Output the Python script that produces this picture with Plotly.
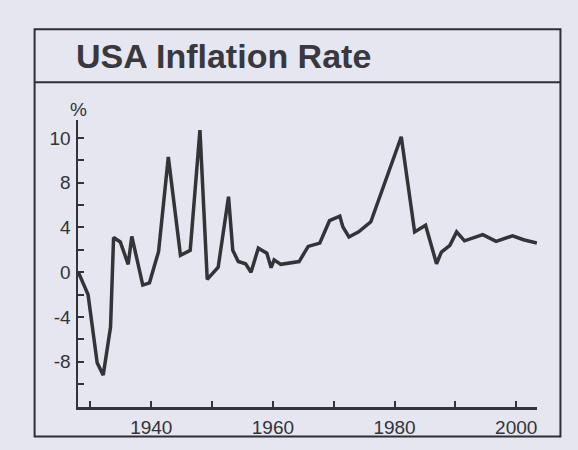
import plotly.graph_objects as go

# Data (year, % value on the drawn axis scale)
years = [1928.0, 1929.6, 1931.1, 1932.1, 1933.3, 1933.8, 1934.9, 1936.2, 1936.8,
         1938.6, 1939.7, 1941.2, 1942.8, 1944.8, 1946.4, 1948.0, 1949.2, 1951.0,
         1952.7, 1953.4, 1954.3, 1955.5, 1956.4, 1957.6, 1959.0, 1959.7, 1960.2,
         1961.3, 1964.3, 1965.8, 1967.7, 1969.3, 1971.0, 1971.5, 1972.5, 1974.1,
         1976.1, 1981.1, 1983.3, 1985.1, 1986.9, 1987.7, 1989.1, 1990.2, 1991.5,
         1994.5, 1996.7, 1999.4, 2001.2, 2003.4]
rates = [0.0, -2.0, -8.1, -9.2, -4.9, 3.1, 2.7, 0.7, 3.2,
         -1.15, -0.95, 1.85, 10.3, 1.5, 1.95, 12.7, -0.65, 0.45,
         6.75, 1.95, 0.95, 0.75, 0.0, 2.15, 1.7, 0.4, 1.1,
         0.7, 0.95, 2.3, 2.6, 4.6, 5.0, 4.05, 3.15, 3.6,
         4.5, 12.1, 3.6, 4.2, 0.75, 1.8, 2.4, 3.6, 2.8,
         3.35, 2.75, 3.25, 2.9, 2.6]

x_tick_vals = [1930, 1940, 1950, 1960, 1970, 1980, 1990, 2000]
x_tick_text = ["", "1940", "", "1960", "", "1980", "", "2000"]
y_tick_vals = [-10, -8, -6, -4, -2, 0, 2, 4, 6, 8, 10, 12]
y_tick_text = ["", "-8", "", "-4", "", "0", "", "4", "", "8", "", "10"]

title_text = "USA Inflation Rate"
unit_text = "%"

W, H = 578, 450
L, R, T, B = 77.5, 40.5, 120, 39
pw, ph = W - L - R, H - T - B

def px(xp):
    return (xp - L) / pw

def py(yp):
    return (H - B - yp) / ph

ink = "#333338"
bg = "#e5e6ef"

fig = go.Figure()
fig.add_trace(go.Scatter(x=years, y=rates, mode="lines",
                         line=dict(color=ink, width=3.5), hoverinfo="skip"))

fig.update_layout(
    width=W, height=H,
    margin=dict(l=L, r=R, t=T, b=B),
    paper_bgcolor=bg, plot_bgcolor=bg,
    showlegend=False,
    font=dict(family="Liberation Sans, Arial, sans-serif", size=19, color=ink),
    xaxis=dict(range=[1927.95, 2003.42], tickvals=x_tick_vals, ticktext=x_tick_text,
               ticks="inside", ticklen=6, tickwidth=2, tickcolor=ink,
               showline=True, linecolor=ink, linewidth=2.5, showgrid=False,
               zeroline=False, ticklabelstandoff=2, fixedrange=True),
    yaxis=dict(range=[-12.05, 13.6], tickvals=y_tick_vals, ticktext=y_tick_text,
               ticks="inside", ticklen=6, tickwidth=2, tickcolor=ink,
               showline=True, linecolor=ink, linewidth=2.5, showgrid=False,
               zeroline=False, ticklabelstandoff=1, fixedrange=True),
    shapes=[
        dict(type="rect", xref="paper", yref="paper",
             x0=px(34), x1=px(561), y0=py(441), y1=py(28),
             line=dict(color="#2e2e33", width=2), fillcolor="rgba(0,0,0,0)", layer="below"),
        dict(type="line", xref="paper", yref="paper",
             x0=px(34), x1=px(561), y0=py(81.7), y1=py(81.7),
             line=dict(color="#2e2e33", width=2)),
    ],
    annotations=[
        dict(text=title_text, xref="paper", yref="paper", x=px(73), y=py(55),
             xanchor="left", yanchor="middle", showarrow=False,
             font=dict(family="Liberation Sans, Arial, sans-serif",
                       size=34, color="#38383e", weight="bold")),
        dict(text=unit_text, xref="paper", yref="paper", x=px(78), y=py(109),
             xanchor="center", yanchor="middle", showarrow=False,
             font=dict(size=19, color=ink)),
    ],
)

fig.write_html("out.html", config={"displayModeBar": False, "staticPlot": True},
               post_script="document.body.style.margin='0px';document.body.style.background='%s';" % bg)
